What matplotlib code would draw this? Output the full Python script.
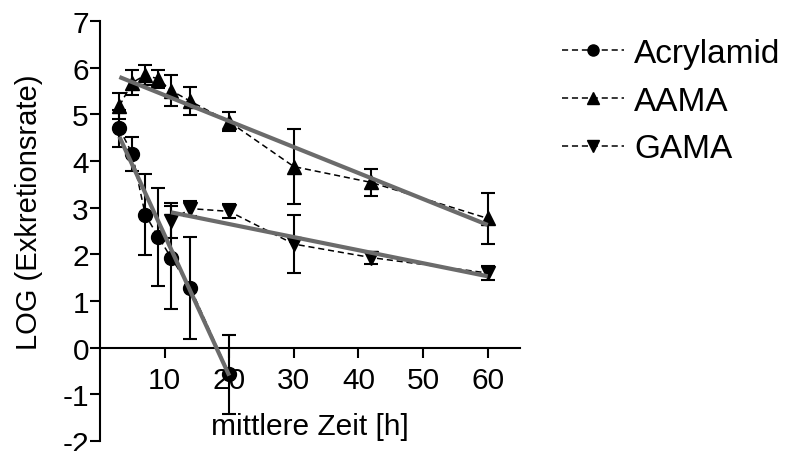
import numpy as np
import matplotlib
matplotlib.use('Agg')
import matplotlib.pyplot as plt

plt.rcParams['font.family'] = ['Liberation Sans', 'DejaVu Sans']
plt.rcParams['axes.unicode_minus'] = False

# Acrylamid (circles)
acr_x = [3, 5, 7, 9, 11, 14, 20]
acr_y = [4.70, 4.15, 2.85, 2.38, 1.93, 1.28, -0.57]
acr_err = [0.40, 0.37, 0.87, 1.05, 1.10, 1.10, 0.85]

# AAMA (triangle up)
aama_x = [3, 5, 7, 9, 11, 14, 20, 30, 42, 60]
aama_y = [5.18, 5.68, 5.84, 5.76, 5.51, 5.28, 4.84, 3.88, 3.54, 2.77]
aama_err = [0.27, 0.27, 0.22, 0.20, 0.34, 0.30, 0.20, 0.80, 0.29, 0.55]

# GAMA (triangle down)
gama_x = [11, 14, 20, 30, 42, 60]
gama_y = [2.72, 2.98, 2.92, 2.22, 1.93, 1.60]
gama_err = [0.38, 0.16, 0.15, 0.62, 0.13, 0.16]

# regression lines (end points)
acr_fit_x = [3, 20]
acr_fit_y = [4.52, -0.60]
aama_fit_x = [3, 60]
aama_fit_y = [5.80, 2.63]
gama_fit_x = [11, 60]
gama_fit_y = [2.90, 1.53]

labels = ['Acrylamid', 'AAMA', 'GAMA']
yticks = list(range(-2, 8))
xticks = [10, 20, 30, 40, 50, 60]


def main():
    fig = plt.figure(figsize=(7.89, 4.52), dpi=100)
    ax = fig.add_axes([100 / 789, 10 / 452, 420 / 789, 420 / 452])

    series = [(acr_x, acr_y, acr_err, 'o'),
              (aama_x, aama_y, aama_err, '^'),
              (gama_x, gama_y, gama_err, 'v')]
    handles = []
    for (x, y, e, m), lab in zip(series, labels):
        ax.errorbar(x, y, yerr=e, fmt='none', ecolor='black', elinewidth=1.5,
                    capsize=5, capthick=1.5, zorder=2)
        h, = ax.plot(x, y, color='black', linestyle='--', dashes=(4, 2.5), linewidth=1.1,
                     marker=m, markersize=10, markerfacecolor='black',
                     markeredgecolor='black', label=lab, zorder=3)
        handles.append(h)

    for fx, fy in [(acr_fit_x, acr_fit_y), (aama_fit_x, aama_fit_y), (gama_fit_x, gama_fit_y)]:
        ax.plot(fx, fy, color='#6b6b6b', linewidth=3, solid_capstyle='butt', zorder=4)

    ax.set_xlim(0, 65)
    ax.set_ylim(-2, 7)
    ax.spines['top'].set_visible(False)
    ax.spines['right'].set_visible(False)
    ax.spines['bottom'].set_position(('data', 0))
    for s in ['left', 'bottom']:
        ax.spines[s].set_linewidth(1.5)
    ax.set_yticks(yticks)
    ax.set_xticks(xticks)
    ax.tick_params(axis='both', direction='out', length=7, width=1.5, labelsize=21.5)
    ax.tick_params(axis='y', pad=1)
    ax.tick_params(axis='x', pad=6)

    ax.set_xlabel('mittlere Zeit [h]', fontsize=21.5)
    ax.xaxis.set_label_coords(0.5, 0.07)
    ax.set_ylabel('LOG (Exkretionsrate)', fontsize=21)
    ax.yaxis.set_label_coords(-0.136, 0.548)

    leg = fig.legend(handles=handles, loc='upper left', bbox_to_anchor=(562 / 789, 1 - 39 / 452),
                     frameon=False, fontsize=24, handlelength=1.86, handletextpad=0.3,
                     labelspacing=0.5, borderpad=0, borderaxespad=0)
    for h in leg.legend_handles:
        h.set_markersize(8)

    fig.savefig('out.png', dpi=100)


if __name__ == "__main__":
    main()
